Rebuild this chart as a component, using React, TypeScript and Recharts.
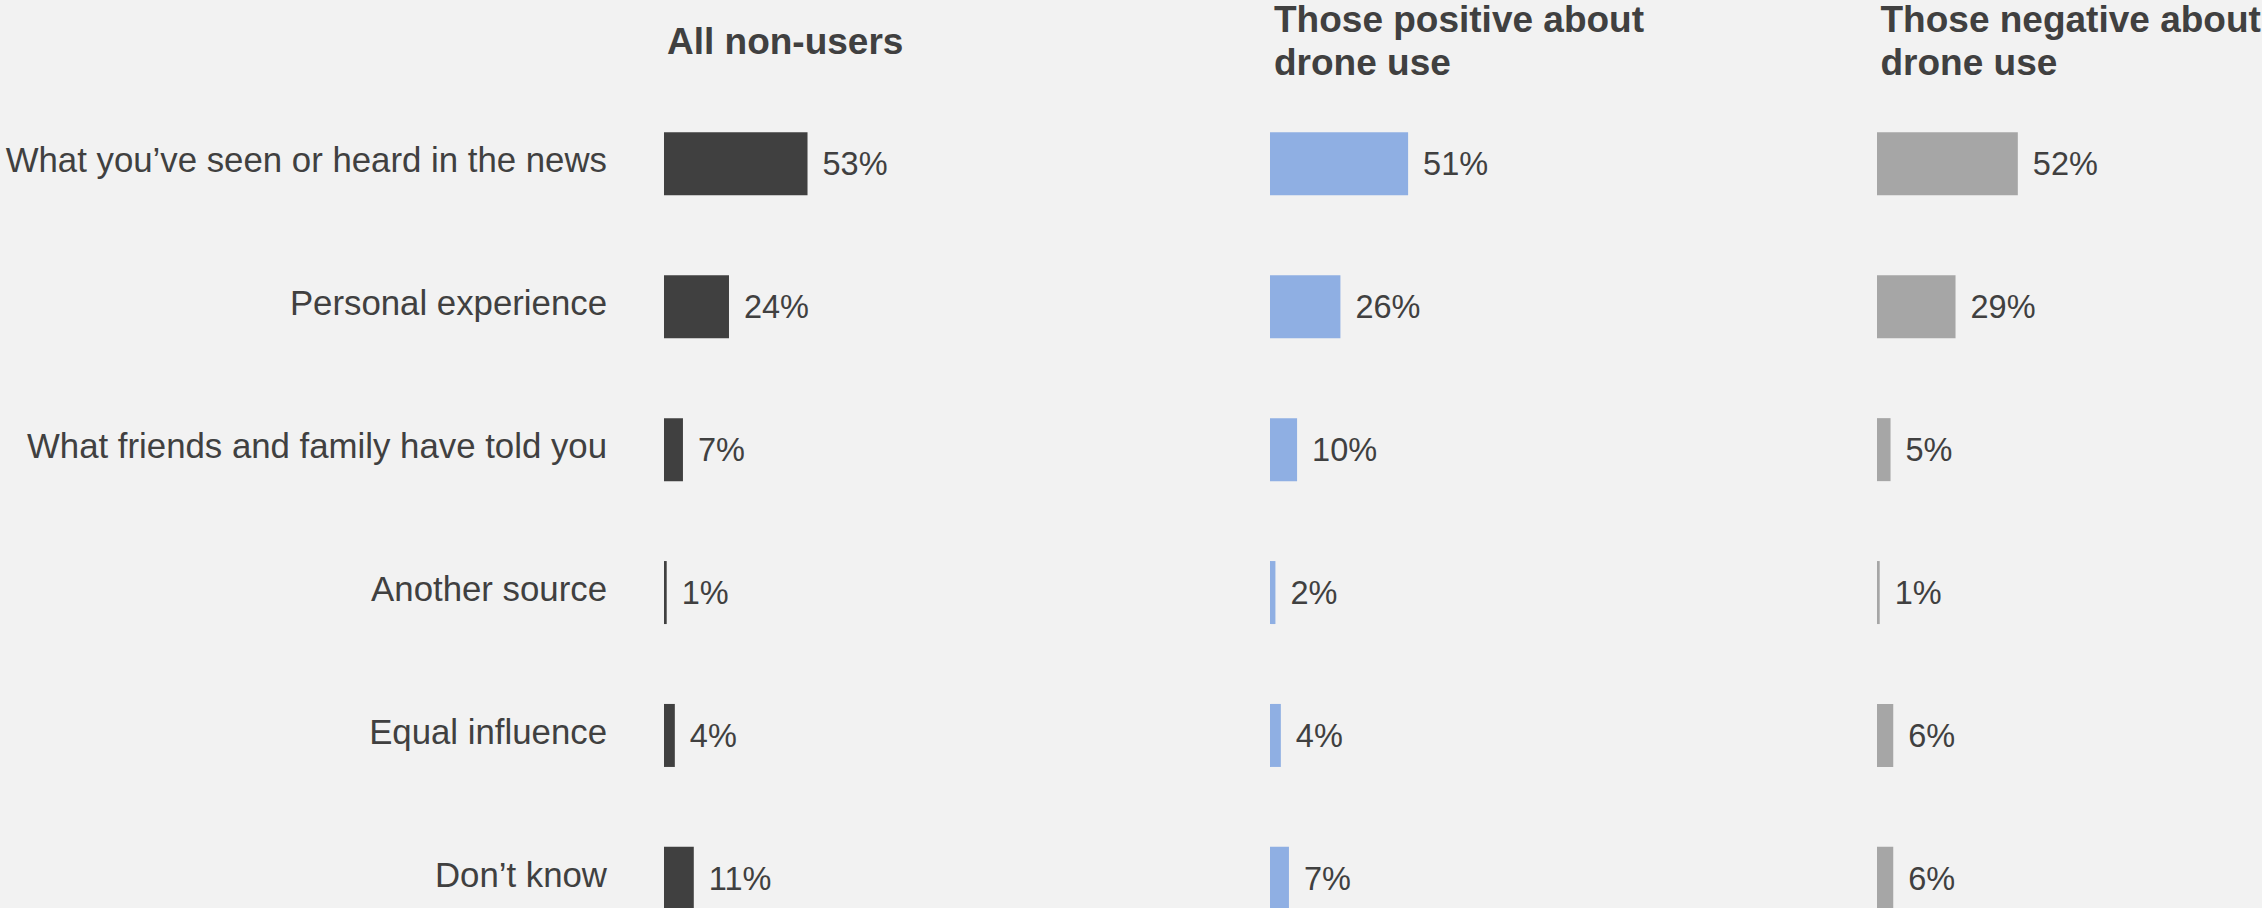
import React from 'react';
import { BarChart, Bar, XAxis, YAxis, LabelList } from 'recharts';

const categories = [
  'What you’ve seen or heard in the news',
  'Personal experience',
  'What friends and family have told you',
  'Another source',
  'Equal influence',
  'Don’t know',
];

const allNonUsers = [53, 24, 7, 1, 4, 11];
const positiveAboutDrones = [51, 26, 10, 2, 4, 7];
const negativeAboutDrones = [52, 29, 5, 1, 6, 6];

const panelTitles = ['All non-users', 'Those positive about drone use', 'Those negative about drone use'];

const FONT = '"Liberation Sans", Arial, Helvetica, sans-serif';
const TEXT = '#404040';
const BG = '#F2F2F2';

// layout numbers
const PLOT_W = 270.8; // 0..100 %
const TOP = 92.35;
const ROW = 142.9;
const CHART_H = TOP + ROW * categories.length;
const RIGHT_PAD = 300;
const AXIS_W = 664;

const rows = categories.map((name, i) => ({
  name,
  all: allNonUsers[i],
  pos: positiveAboutDrones[i],
  neg: negativeAboutDrones[i],
}));

const CategoryTick = (props: any) => {
  const { x, y, payload } = props;
  return (
    <text x={x} y={y - 4} dy="0.355em" textAnchor="end" fill={TEXT} fontSize={34.8} fontFamily={FONT}>
      {payload.value}
    </text>
  );
};

const Panel = ({ dataKey, color, left, withAxis }: { dataKey: string; color: string; left: number; withAxis: boolean }) => {
  const width = (withAxis ? AXIS_W : 0) + PLOT_W + RIGHT_PAD;
  return (
    <div style={{ position: 'absolute', left, top: 0 }}>
      <BarChart
        width={width}
        height={CHART_H}
        data={rows}
        layout="vertical"
        margin={{ top: TOP, right: RIGHT_PAD, bottom: 0, left: 0 }}
      >
        <XAxis type="number" domain={[0, 100]} hide />
        <YAxis
          type="category"
          dataKey="name"
          hide={!withAxis}
          width={withAxis ? AXIS_W : 0}
          axisLine={false}
          tickLine={false}
          tickSize={0}
          tickMargin={57}
          interval={0}
          tick={<CategoryTick />}
        />
        <Bar dataKey={dataKey} fill={color} barSize={63} isAnimationActive={false}>
          <LabelList
            dataKey={dataKey}
            position="right"
            offset={15}
            formatter={(v: any) => `${v}%`}
            fill={TEXT}
            fontSize={32.5}
            fontFamily={FONT}
          />
        </Bar>
      </BarChart>
    </div>
  );
};

const titleStyle: React.CSSProperties = {
  position: 'absolute',
  fontFamily: FONT,
  fontWeight: 'bold',
  fontSize: 37,
  lineHeight: '43.7px',
  color: TEXT,
  whiteSpace: 'nowrap',
};

const App: React.FC = () => {
  return (
    <div
      style={{
        position: 'fixed',
        left: 0,
        top: 0,
        width: 2262,
        height: 908,
        overflow: 'hidden',
        background: BG,
      }}
    >
      <Panel dataKey="all" color="#404040" left={0} withAxis />
      <Panel dataKey="pos" color="#8FAFE3" left={1270.4} withAxis={false} />
      <Panel dataKey="neg" color="#A6A6A6" left={1877} withAxis={false} />

      <div style={{ ...titleStyle, left: 667, top: 19.5 }}>{panelTitles[0]}</div>
      <div style={{ ...titleStyle, left: 1274, top: -2.5 }}>
        Those positive about
        <br />
        drone use
      </div>
      <div style={{ ...titleStyle, left: 1880.5, top: -2.5 }}>
        Those negative about
        <br />
        drone use
      </div>
    </div>
  );
};

export default App;
